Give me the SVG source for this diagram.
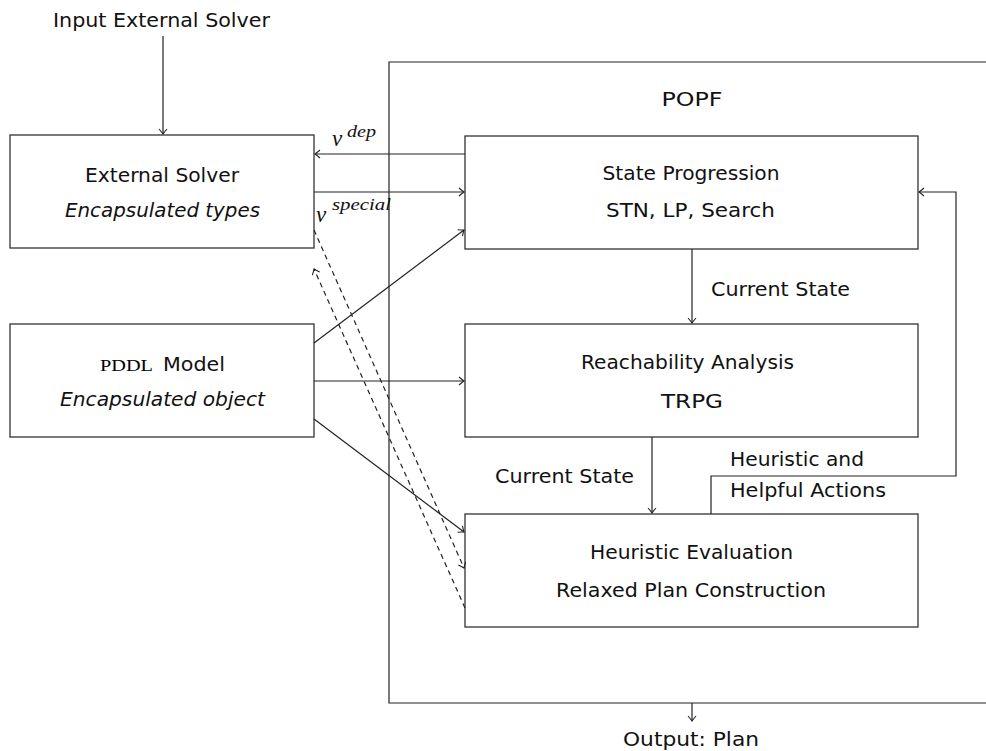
<svg xmlns="http://www.w3.org/2000/svg" width="986" height="751" viewBox="0 0 986 751">
<defs>
<style>
.box{fill:#fff;stroke:#333;stroke-width:1.3}
.ln{fill:none;stroke:#222;stroke-width:1.2}
.dash{stroke-dasharray:5 4}
.t{font-family:"DejaVu Sans","Liberation Sans",sans-serif;font-size:19.5px;fill:#111}
.c{text-anchor:middle}
.i{font-style:italic}
.m{font-family:"Liberation Serif","Times New Roman",serif;font-style:italic;fill:#111}
.sc{font-family:"Liberation Serif","Times New Roman",serif;font-size:17px}
</style>
<marker id="ah" viewBox="-6 -5 7 10" refX="0" refY="0" markerWidth="7" markerHeight="10" markerUnits="userSpaceOnUse" orient="auto">
<path d="M-5,-4 Q-1.5,-1 0,0 Q-1.5,1 -5,4" fill="none" stroke="#222" stroke-width="1.1"/>
</marker>
</defs>
<rect width="986" height="751" fill="#fff"/>
<g id="popf">
<path class="ln" d="M986,62 H389 V703 H986"/>
<text class="t c" x="692" y="106" textLength="61" lengthAdjust="spacingAndGlyphs">POPF</text>
</g>
<g id="input">
<text class="t c" x="161.5" y="27" textLength="217" lengthAdjust="spacingAndGlyphs">Input External Solver</text>
</g>
<g id="external-solver">
<rect class="box" x="10" y="135" width="304" height="113"/>
<text class="t c" x="162" y="182" textLength="154" lengthAdjust="spacingAndGlyphs">External Solver</text>
<text class="t c i" x="162.5" y="217" textLength="195" lengthAdjust="spacingAndGlyphs">Encapsulated types</text>
</g>
<g id="pddl-model">
<rect class="box" x="10" y="324" width="304" height="113"/>
<text class="sc" x="100" y="371" textLength="53" lengthAdjust="spacingAndGlyphs">PDDL</text>
<text class="t" x="163" y="371" textLength="62" lengthAdjust="spacingAndGlyphs">Model</text>
<text class="t c i" x="162.5" y="406" textLength="205" lengthAdjust="spacingAndGlyphs">Encapsulated object</text>
</g>
<g id="state-progression">
<rect class="box" x="465" y="136" width="453" height="113"/>
<text class="t c" x="691" y="180" textLength="177" lengthAdjust="spacingAndGlyphs">State Progression</text>
<text class="t c" x="690.5" y="217" textLength="169" lengthAdjust="spacingAndGlyphs">STN, LP, Search</text>
</g>
<g id="reachability">
<rect class="box" x="465" y="324" width="453" height="113"/>
<text class="t c" x="687.5" y="369" textLength="213" lengthAdjust="spacingAndGlyphs">Reachability Analysis</text>
<text class="t c" x="692" y="408" textLength="62" lengthAdjust="spacingAndGlyphs">TRPG</text>
</g>
<g id="heuristic-evaluation">
<rect class="box" x="465" y="514" width="453" height="113"/>
<text class="t c" x="691.5" y="559" textLength="203" lengthAdjust="spacingAndGlyphs">Heuristic Evaluation</text>
<text class="t c" x="691" y="597" textLength="270" lengthAdjust="spacingAndGlyphs">Relaxed Plan Construction</text>
</g>
<g id="output">
<text class="t c" x="691" y="746" textLength="136" lengthAdjust="spacingAndGlyphs">Output: Plan</text>
</g>
<g id="connectors">
<line class="ln" x1="163" y1="36" x2="163" y2="134" marker-end="url(#ah)"/>
<line class="ln" x1="465" y1="154" x2="315" y2="154" marker-end="url(#ah)"/>
<line class="ln" x1="314" y1="192" x2="464" y2="192" marker-end="url(#ah)"/>
<line class="ln" x1="314" y1="343" x2="464" y2="230" marker-end="url(#ah)"/>
<line class="ln" x1="314" y1="381" x2="464" y2="381" marker-end="url(#ah)"/>
<line class="ln" x1="314" y1="419" x2="464" y2="532" marker-end="url(#ah)"/>
<line class="ln dash" x1="314" y1="230" x2="464" y2="568" marker-end="url(#ah)"/>
<line class="ln dash" x1="465" y1="608" x2="314" y2="269" marker-end="url(#ah)"/>
<line class="ln" x1="692" y1="249" x2="692" y2="323" marker-end="url(#ah)"/>
<line class="ln" x1="652" y1="437" x2="652" y2="513" marker-end="url(#ah)"/>
<path class="ln" d="M711,514 V476 H956 V192 H919" marker-end="url(#ah)"/>
<line class="ln" x1="692" y1="703" x2="692" y2="721" marker-end="url(#ah)"/>
<text class="m" x="332" y="146" font-size="23">v</text>
<text class="m" x="347" y="137" font-size="17" textLength="29" lengthAdjust="spacingAndGlyphs">dep</text>
<text class="m" x="316" y="222" font-size="23">v</text>
<text class="m" x="332" y="210" font-size="17" textLength="59" lengthAdjust="spacingAndGlyphs">special</text>
<text class="t" x="711" y="296" textLength="139" lengthAdjust="spacingAndGlyphs">Current State</text>
<text class="t" x="495" y="483" textLength="139" lengthAdjust="spacingAndGlyphs">Current State</text>
<text class="t" x="730" y="466" textLength="134" lengthAdjust="spacingAndGlyphs">Heuristic and</text>
<text class="t" x="730" y="497" textLength="156" lengthAdjust="spacingAndGlyphs">Helpful Actions</text>
</g>
</svg>
